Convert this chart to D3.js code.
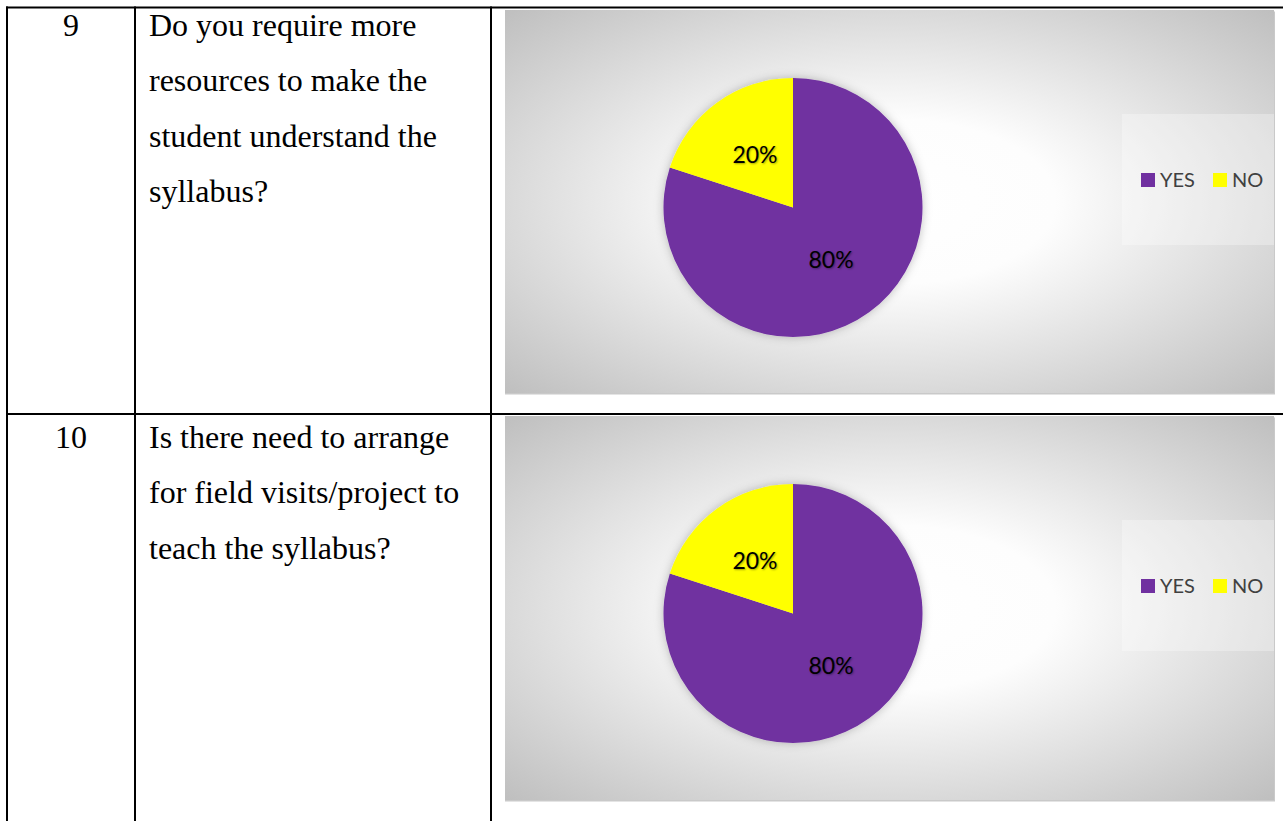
<!DOCTYPE html>
<html>
<head>
<meta charset="utf-8">
<script src="https://cdn.jsdelivr.net/npm/d3@7"></script>
<style>
  html, body { margin: 0; padding: 0; background: #fff; }
  svg { display: block; }
  .pct { text-shadow: 1px 1px 2px rgba(0,0,0,0.35); }
</style>
</head>
<body>
<svg id="chart" width="1283" height="821"></svg>
<script>
// ---- data ----
const rowNumbers = ["9", "10"];
const questions = [
  ["Do you require more", "resources to make the", "student understand the", "syllabus?"],
  ["Is there need to arrange", "for field visits/project to", "teach the syllabus?"]
];
const categories = ["YES", "NO"];
const q9Values = [80, 20];
const q10Values = [80, 20];
const seriesValues = [q9Values, q10Values];
const colors = ["#7030A0", "#FFFF00"];

// ---- layout ----
const svg = d3.select("#chart");
const defs = svg.append("defs");

const grad = defs.append("radialGradient")
  .attr("id", "bg").attr("cx", 0.5).attr("cy", 0.5).attr("r", 0.72);
grad.append("stop").attr("offset", 0).attr("stop-color", "#ffffff");
grad.append("stop").attr("offset", 0.3).attr("stop-color", "#fdfdfd");
grad.append("stop").attr("offset", 1).attr("stop-color", "#bdbdbd");

const shadow = defs.append("filter").attr("id", "pieShadow")
  .attr("x", -0.2).attr("y", -0.2).attr("width", 1.4).attr("height", 1.4);
shadow.append("feDropShadow").attr("dx", 0).attr("dy", 0)
  .attr("stdDeviation", 5).attr("flood-color", "#000").attr("flood-opacity", 0.25);

const rows = [
  { top: 7, bottom: 414, chartTop: 10, chartBottom: 393, numBase: 36 },
  { top: 414, bottom: 830, chartTop: 416, chartBottom: 800, numBase: 448 }
];
const colX = [7, 135, 491];
const chartLeft = 505, chartRight = 1274;
const lineGap = 55.4;
const serifSize = 32;

const pie = d3.pie().sort(null).value(d => d);
const R = 129.5;
const arc = d3.arc().innerRadius(0).outerRadius(R);
const labelArc = d3.arc().innerRadius(R * 0.5).outerRadius(R * 0.5);

rows.forEach((row, i) => {
  // chart background
  const g = svg.append("g");
  g.append("rect")
    .attr("x", chartLeft).attr("y", row.chartTop + 1.5)
    .attr("width", chartRight - chartLeft + 1).attr("height", row.chartBottom - row.chartTop)
    .attr("fill", "#c9c9c9");
  g.append("rect")
    .attr("x", chartLeft).attr("y", row.chartTop)
    .attr("width", chartRight - chartLeft).attr("height", row.chartBottom - row.chartTop)
    .attr("fill", "url(#bg)");

  const cx = 793, cy = row.chartTop + 197.5;
  const pieG = g.append("g").attr("transform", `translate(${cx},${cy})`);
  const arcs = pie(seriesValues[i]);
  pieG.append("g").attr("filter", "url(#pieShadow)")
    .selectAll("path").data(arcs).join("path")
    .attr("d", arc)
    .attr("fill", (d, j) => colors[j]);
  pieG.selectAll("text").data(arcs).join("text")
    .attr("class", "pct")
    .attr("transform", d => `translate(${labelArc.centroid(d)})`)
    .attr("text-anchor", "middle").attr("dy", "0.35em")
    .attr("font-family", "Lato, 'Open Sans', sans-serif")
    .attr("font-size", 23)
    .attr("fill", "#000")
    .text(d => d.value + "%");

  // legend
  const ly = row.chartTop + 170;
  g.append("rect")
    .attr("x", 1122).attr("y", row.chartTop + 104)
    .attr("width", chartRight - 1122).attr("height", 131)
    .attr("fill", "#fff").attr("fill-opacity", 0.3);
  const legX = [1141, 1213];
  categories.forEach((c, j) => {
    g.append("rect").attr("x", legX[j]).attr("y", ly - 7)
      .attr("width", 14).attr("height", 14).attr("fill", colors[j]);
    g.append("text").attr("x", legX[j] + 19).attr("y", ly).attr("dy", "0.36em")
      .attr("font-family", "Lato, 'Open Sans', sans-serif").attr("font-size", 20)
      .attr("fill", "#404040").text(c);
  });

  // table text
  svg.append("text").attr("x", (colX[0] + colX[1]) / 2).attr("y", row.numBase)
    .attr("text-anchor", "middle")
    .attr("font-family", "'Liberation Serif', 'Times New Roman', serif")
    .attr("font-size", serifSize).attr("fill", "#000").text(rowNumbers[i]);
  questions[i].forEach((line, k) => {
    svg.append("text").attr("x", 149).attr("y", row.numBase + k * lineGap)
      .attr("font-family", "'Liberation Serif', 'Times New Roman', serif")
      .attr("font-size", serifSize).attr("fill", "#000").text(line);
  });
});

// table lines
const lineG = svg.append("g").attr("stroke", "#000").attr("stroke-width", 2);
lineG.append("line").attr("x1", 6).attr("x2", 1283).attr("y1", 7.5).attr("y2", 7.5);
lineG.append("line").attr("x1", 6).attr("x2", 1283).attr("y1", 414).attr("y2", 414);
colX.forEach(x => {
  lineG.append("line").attr("x1", x).attr("x2", x).attr("y1", 6.5).attr("y2", 821);
});
</script>
</body>
</html>
